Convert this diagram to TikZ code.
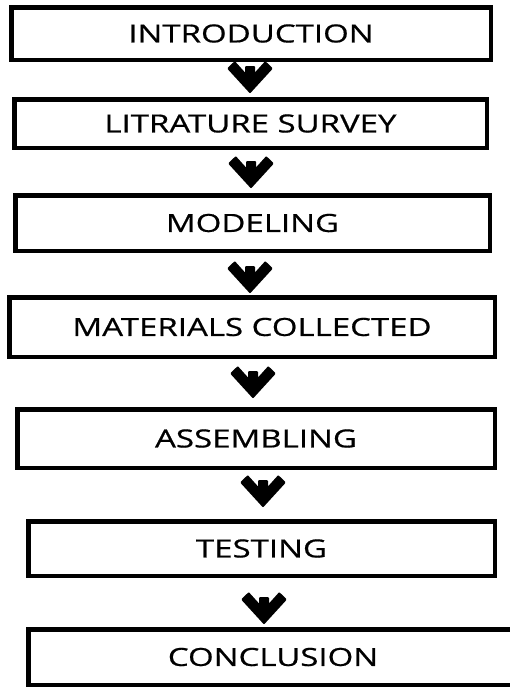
\documentclass[tikz,border=0pt]{standalone}
\usepackage{fontspec}
\setmainfont{Open Sans}[FakeStretch=1.32,FakeBold=0.6]
\begin{document}
\begin{tikzpicture}[x=1pt,y=-1pt,
  stepbox/.style={draw=black, line width=4.5pt, rectangle, inner sep=0pt, font=\fontsize{25}{29}\selectfont},
  chev/.pic={\filldraw[black, line width=2pt, line join=round]
     (0,0) -- (-21.5,-23.5) -- (-15.3,-29.5) -- (-4,-17) -- (-4,-25) -- (4,-25) -- (4,-17) -- (15.3,-29.5) -- (21.5,-23.5) -- cycle;}
]
\useasboundingbox (0,0) rectangle (510,688);
\clip (0,0) rectangle (510,688);
\node[stepbox, minimum width=479.5pt, minimum height=52.5pt] (b1) at (251,33.5) {INTRODUCTION};
\node[stepbox, minimum width=472.5pt, minimum height=48.5pt] (b2) at (250.5,123.5) {LITRATURE SURVEY};
\node[stepbox, minimum width=474.5pt, minimum height=55.5pt] (b3) at (252.5,223) {MODELING};
\node[stepbox, minimum width=485.5pt, minimum height=59.5pt] (b4) at (252,327) {MATERIALS COLLECTED};
\node[stepbox, minimum width=477.5pt, minimum height=58.5pt] (b5) at (256,438.5) {ASSEMBLING};
\node[stepbox, minimum width=466.5pt, minimum height=54.5pt] (b6) at (261.5,548.5) {TESTING};
\node[stepbox, minimum width=489.5pt, minimum height=55.5pt] (b7) at (273,657) {CONCLUSION};
\coordinate (a1) at (250,92);
\coordinate (a2) at (251,187);
\coordinate (a3) at (250,292);
\coordinate (a4) at (253,397);
\coordinate (a5) at (263,506);
\coordinate (a6) at (264,623);
\foreach \a in {a1,a2,a3,a4,a5,a6} { \pic at (\a) {chev}; }
\end{tikzpicture}
\end{document}
